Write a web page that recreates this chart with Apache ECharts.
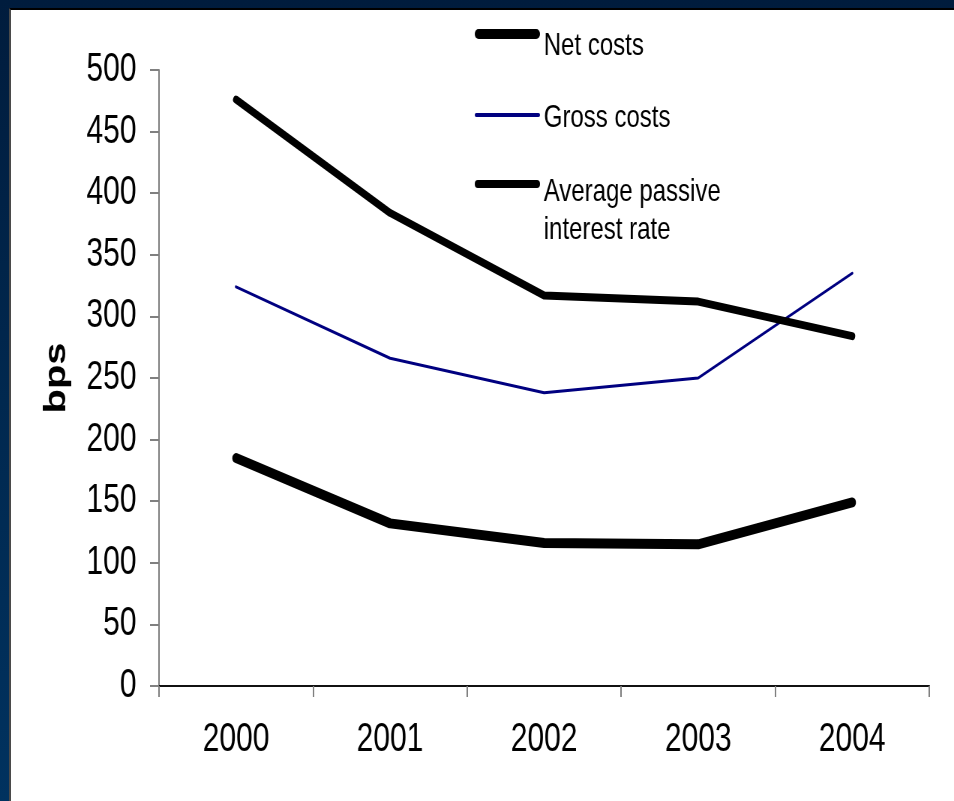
<!DOCTYPE html>
<html>
<head>
<meta charset="utf-8">
<script src="https://cdn.jsdelivr.net/npm/echarts@6/dist/echarts.min.js"></script>
<style>
  html, body { margin: 0; padding: 0; width: 954px; height: 801px; overflow: hidden; }
  body { background: linear-gradient(to bottom, #001c3d 0%, #00284f 50%, #00325f 100%); position: relative; }
  #panel {
    position: absolute; left: 9px; top: 8px; right: 0; bottom: 0;
    background: #ffffff; border-top: 2px solid #000000; border-left: 2px solid #4a4a4a;
  }
  /* the chart is laid out wide and then narrowed, giving the condensed lettering */
  #chart {
    position: absolute; left: 0; top: 0; width: 1272px; height: 801px;
    transform: scaleX(0.75); transform-origin: 0 0;
  }
</style>
</head>
<body>
<div id="panel"></div>
<div id="chart"></div>
<script>
// Funding costs, in basis points
const years = ['2000', '2001', '2002', '2003', '2004'];
const netCosts = [185, 132, 116, 115, 149];
const grossCosts = [324, 266, 238, 250, 335];
const avgPassiveRate = [476, 384, 317, 312, 284];

const FONT = '"Liberation Sans", Arial, sans-serif';

// pill-shaped legend keys (width x height match itemWidth x itemHeight)
function pill(w, h) {
  const r = h / 2;
  return 'path://M' + r + ',0 H' + (w - r) + ' A' + r + ',' + r + ' 0 0 1 ' + (w - r) + ',' + h +
         ' H' + r + ' A' + r + ',' + r + ' 0 0 1 ' + r + ',0 Z';
}

const chart = echarts.init(document.getElementById('chart'), null, { renderer: 'canvas' });

// one legend per key; an empty spacer line pushes the label below the key
function legendFor(name, top, h, spacer, lines, lineHeight) {
  const body = lines.map(function (l) { return '{t|' + l + '}'; }).join('\n');
  return {
    show: true,
    data: [{ name: name, icon: pill(87, h) }],
    left: 633, top: top, padding: 0,
    itemWidth: 87, itemHeight: h,
    selectedMode: false,
    formatter: function () { return '{s| }\n' + body; },
    textStyle: {
      fontFamily: FONT, fontSize: 32, color: '#000',
      rich: {
        s: { fontSize: 4, lineHeight: spacer },
        t: { fontFamily: FONT, fontSize: 32, color: '#000', lineHeight: lineHeight }
      }
    }
  };
}

chart.setOption({
  backgroundColor: 'transparent',
  animation: false,
  legend: [
    legendFor('Net costs', 15, 10, 24, ['Net costs'], 34),
    legendFor('Gross costs', 96, 4, 6, ['Gross costs'], 34),
    legendFor('Average passive interest rate', 144, 8, 54, ['Average passive', 'interest rate'], 38)
  ],
  grid: { left: 212, right: 33, top: 70, bottom: 115 },
  xAxis: {
    type: 'category',
    data: years,
    boundaryGap: true,
    axisLine: { show: true, lineStyle: { color: '#111', width: 2 } },
    axisTick: { show: true, length: 11, lineStyle: { color: '#808080', width: 2 } },
    axisLabel: { fontFamily: FONT, fontSize: 40, color: '#000', margin: 34, lineHeight: 40 },
    splitLine: { show: false }
  },
  yAxis: {
    type: 'value',
    min: 0, max: 500, interval: 50,
    name: 'bps',
    nameLocation: 'middle',
    nameRotate: 90,
    nameGap: 116,
    nameTextStyle: { fontFamily: FONT, fontSize: 40, fontWeight: 'bold', color: '#000' },
    axisLine: { show: true, lineStyle: { color: '#808080', width: 2 } },
    axisTick: { show: true, length: 12, lineStyle: { color: '#808080', width: 2 } },
    axisLabel: { fontFamily: FONT, fontSize: 40, color: '#000', margin: 30 },
    splitLine: { show: false }
  },
  series: [
    {
      name: 'Net costs', type: 'line', data: netCosts, symbol: 'none', z: 3,
      itemStyle: { color: '#000' },
      lineStyle: { color: '#000', width: 10, cap: 'round', join: 'round' }
    },
    {
      name: 'Gross costs', type: 'line', data: grossCosts, symbol: 'none', z: 2,
      itemStyle: { color: '#000080' },
      lineStyle: { color: '#000080', width: 3, cap: 'round', join: 'round' }
    },
    {
      name: 'Average passive interest rate', type: 'line', data: avgPassiveRate, symbol: 'none', z: 4,
      itemStyle: { color: '#000' },
      lineStyle: { color: '#000', width: 8, cap: 'round', join: 'round' }
    }
  ]
});
</script>
</body>
</html>
